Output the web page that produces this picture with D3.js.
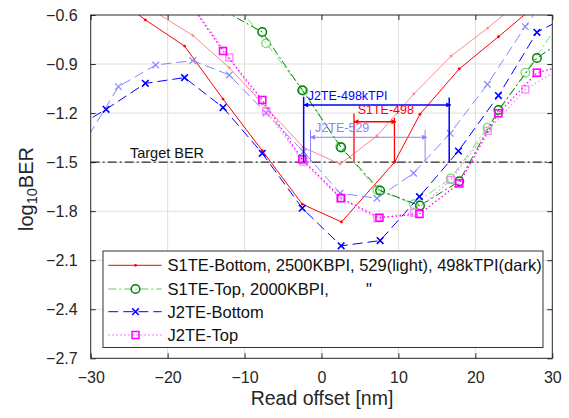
<!DOCTYPE html>
<html>
<head>
<meta charset="utf-8">
<script src="https://cdn.jsdelivr.net/npm/d3@7"></script>
<style>
  body { margin: 0; background: #fff; }
  svg { font-family: "Liberation Sans", Arial, sans-serif; }
</style>
</head>
<body>
<svg id="chart" width="569" height="418"></svg>
<script>
// axis ticks
const xTicks = [-30, -20, -10, 0, 10, 20, 30];
const yTicks = [-0.6, -0.9, -1.2, -1.5, -1.8, -2.1, -2.4, -2.7];

// S1TE-Bottom (498 dark / 529 light)
const s1BotDarkX = [-27.9, -22.9, -17.8, -12.8, -7.7, -2.5, 2.6, 9.5, 12.8, 17.9, 23.0, 28.0];
const s1BotDarkY = [-0.45, -0.63, -0.79, -1.114, -1.43, -1.757, -1.866, -1.50, -1.207, -0.93, -0.733, -0.535];
const s1BotLightX = [-21.5, -16.7, -12.0, -7.1, -2.35, 2.42, 7.2, 12.0, 16.85, 21.6, 26.5];
const s1BotLightY = [-0.585, -0.726, -0.922, -1.17, -1.41, -1.512, -1.34, -1.083, -0.851, -0.68, -0.49];

// S1TE-Top
const s1TopDarkX = [-12.8, -7.7, -2.5, 2.55, 7.62, 12.8, 17.9, 23.0, 28.0, 33.1];
const s1TopDarkY = [-0.571, -0.704, -1.06, -1.41, -1.674, -1.766, -1.617, -1.181, -0.863, -0.70];
const s1TopLightX = [-12.0, -7.2, -2.35, 2.42, 7.27, 12.0, 16.8, 21.57, 26.5, 31.3];
const s1TopLightY = [-0.47, -0.773, -1.063, -1.405, -1.67, -1.757, -1.60, -1.289, -0.953, -0.62];

// J2TE-Bottom
const j2BotDarkX = [-33.1, -28.0, -22.9, -17.8, -12.8, -7.7, -2.5, 2.55, 7.62, 12.73, 17.8, 23.0, 28.0, 33.1];
const j2BotDarkY = [-1.32, -1.177, -1.018, -0.983, -1.166, -1.446, -1.782, -2.012, -1.98, -1.711, -1.432, -1.093, -0.706, -0.58];
const j2BotLightX = [-31.2, -26.4, -21.55, -16.74, -11.98, -7.2, -2.35, 2.42, 7.2, 11.96, 16.72, 21.57, 26.48, 31.3];
const j2BotLightY = [-1.41, -1.038, -0.906, -0.879, -0.967, -1.2, -1.436, -1.69, -1.721, -1.568, -1.324, -1.024, -0.671, -0.35];

// J2TE-Top
const j2TopDarkX = [-17.8, -12.8, -7.7, -2.5, 2.55, 7.53, 12.73, 17.9, 23.0, 28.0, 33.1];
const j2TopDarkY = [-0.48, -0.82, -1.12, -1.483, -1.72, -1.84, -1.817, -1.63, -1.201, -0.953, -0.89];
const j2TopLightX = [-16.8, -11.98, -7.2, -2.35, 2.42, 7.27, 12.04, 16.8, 21.6, 26.5, 31.3];
const j2TopLightY = [-0.545, -0.859, -1.187, -1.497, -1.721, -1.843, -1.809, -1.609, -1.308, -1.055, -0.92];

// target line and margin brackets
const targetBER = -1.5;
const bracketLabels = ["J2TE-498kTPI", "S1TE-498", "J2TE-529"];
const bracketLeft = [-2.32, 4.22, -1.43];
const bracketRight = [16.6, 9.48, 13.47];
const bracketArrowY = [-1.15, -1.253, -1.348];
const bracketTopL = [-1.10, -1.202, -1.303];
const bracketTopR = [-1.105, -1.23, -1.303];
const bracketLabelX = [-1.8, 4.7, -0.83];
const bracketLabelY = [-1.10, -1.185, -1.293];

const legendLabels = [
  "S1TE-Bottom, 2500KBPI, 529(light), 498kTPI(dark)",
  "S1TE-Top, 2000KBPI,",
  "J2TE-Bottom",
  "J2TE-Top"
];

const svg = d3.select("#chart");
const margin = {top: 15, right: 16.7, bottom: 59.7, left: 90.7};
const width = 569 - margin.left - margin.right;
const height = 418 - margin.top - margin.bottom;
const axisColor = "#262626";

const x = d3.scaleLinear().domain([-30, 30]).range([0, width]);
const y = d3.scaleLinear().domain([-0.6, -2.7]).range([0, height]);

const g = svg.append("g").attr("transform", `translate(${margin.left},${margin.top})`);

svg.append("defs").append("clipPath").attr("id", "plotclip")
  .append("rect").attr("width", width).attr("height", height);

// grid
g.append("g").selectAll("line").data(xTicks.slice(1, -1)).join("line")
  .attr("x1", d => x(d)).attr("x2", d => x(d)).attr("y1", 0).attr("y2", height)
  .attr("stroke", "#dfdfdf");
g.append("g").selectAll("line").data(yTicks.slice(1, -1)).join("line")
  .attr("y1", d => y(d)).attr("y2", d => y(d)).attr("x1", 0).attr("x2", width)
  .attr("stroke", "#dfdfdf");

// axes, ticks inward
function styleAxis(sel) {
  sel.select(".domain").remove();
  sel.selectAll("line").attr("stroke", axisColor);
  sel.selectAll("text").attr("fill", axisColor).style("font-size", "16px")
    .style("font-family", "'Liberation Sans', Arial, sans-serif");
}
g.append("g").attr("transform", `translate(0,${height})`)
  .call(d3.axisBottom(x).tickValues(xTicks).tickSizeInner(-5).tickSizeOuter(0).tickPadding(13))
  .call(styleAxis);
g.append("g")
  .call(d3.axisTop(x).tickValues(xTicks).tickSizeInner(-5).tickSizeOuter(0).tickFormat(""))
  .call(styleAxis);
g.append("g")
  .call(d3.axisLeft(y).tickValues(yTicks).tickSizeInner(-5).tickSizeOuter(0).tickPadding(13).tickFormat(d3.format(".1f")))
  .call(styleAxis);
g.append("g").attr("transform", `translate(${width},0)`)
  .call(d3.axisRight(y).tickValues(yTicks).tickSizeInner(-5).tickSizeOuter(0).tickFormat(""))
  .call(styleAxis);

const plot = g.append("g").attr("clip-path", "url(#plotclip)");

// target line
plot.append("line")
  .attr("x1", 0).attr("x2", width).attr("y1", y(targetBER)).attr("y2", y(targetBER))
  .attr("stroke", "#000").attr("stroke-width", 1).attr("stroke-dasharray", "9,3,2,3");
plot.append("text")
  .attr("x", x(-24.9)).attr("y", y(targetBER) - 4.5)
  .style("font-size", "14.5px").attr("fill", "#111").text("Target BER");

const line = d3.line().x(d => x(d[0])).y(d => y(d[1]));

function drawMarker(sel, type, color, sw) {
  if (type === "dot") {
    sel.append("circle").attr("r", 1.4).attr("fill", color);
  } else if (type === "circle") {
    sel.append("circle").attr("r", 4.3).attr("fill", "none").attr("stroke", color).attr("stroke-width", sw);
  } else if (type === "x") {
    sel.append("path").attr("d", "M-3.3,-3.3L3.3,3.3M-3.3,3.3L3.3,-3.3")
      .attr("stroke", color).attr("stroke-width", sw);
  } else if (type === "square") {
    sel.append("rect").attr("x", -3.5).attr("y", -3.5).attr("width", 7).attr("height", 7)
      .attr("fill", "none").attr("stroke", color).attr("stroke-width", sw);
  }
}

function drawSeries(xs, ys, color, dash, lw, marker, msw) {
  const pts = xs.map((v, i) => [v, ys[i]]);
  plot.append("path").datum(pts)
    .attr("d", line).attr("fill", "none")
    .attr("stroke", color).attr("stroke-width", lw)
    .attr("stroke-dasharray", dash);
  plot.append("g").selectAll("g").data(pts).join("g")
    .attr("transform", d => `translate(${x(d[0])},${y(d[1])})`)
    .each(function() { drawMarker(d3.select(this), marker, color, msw); });
}

const dashed = "10,5", dashDot = "8,3,2,3", dotted = "1.5,2.5";

drawSeries(s1BotLightX, s1BotLightY, "#ff8a8a", null, 1, "dot", 1);
drawSeries(s1BotDarkX, s1BotDarkY, "#ff0000", null, 1, "dot", 1);
drawSeries(s1TopLightX, s1TopLightY, "#6ee06e", dashDot, 1, "circle", 1.3);
drawSeries(s1TopDarkX, s1TopDarkY, "#008000", dashDot, 1, "circle", 1.5);
drawSeries(j2BotLightX, j2BotLightY, "#8585ff", dashed, 1, "x", 1.2);
drawSeries(j2BotDarkX, j2BotDarkY, "#0000ff", dashed, 1, "x", 1.6);
drawSeries(j2TopLightX, j2TopLightY, "#ff85ff", dotted, 1.3, "square", 1.3);
drawSeries(j2TopDarkX, j2TopDarkY, "#ff00ff", dotted, 1.3, "square", 1.6);

// brackets with double arrows
const bracketColors = ["#0000ff", "#ff0000", "#8585ff"];
const bracketWidths = [1.5, 1.3, 1];
const defs = svg.select("defs");
bracketColors.forEach((c, i) => {
  defs.append("marker").attr("id", "arr" + i)
    .attr("viewBox", "0 0 10 10").attr("refX", 9).attr("refY", 5)
    .attr("markerWidth", 6).attr("markerHeight", 5)
    .attr("markerUnits", "userSpaceOnUse")
    .attr("orient", "auto-start-reverse")
    .append("path").attr("d", "M0,0L10,5L0,10z").attr("fill", c);
});
bracketLabels.forEach((lab, i) => {
  const c = bracketColors[i];
  g.append("line")
    .attr("x1", x(bracketLeft[i])).attr("x2", x(bracketLeft[i]))
    .attr("y1", y(bracketTopL[i])).attr("y2", y(targetBER))
    .attr("stroke", i === 1 ? "#ff5a5a" : c).attr("stroke-width", i === 1 ? 2 : bracketWidths[i]);
  g.append("line")
    .attr("x1", x(bracketRight[i])).attr("x2", x(bracketRight[i]))
    .attr("y1", y(bracketTopR[i])).attr("y2", y(targetBER))
    .attr("stroke", c).attr("stroke-width", bracketWidths[i]);
  g.append("line")
    .attr("x1", x(bracketLeft[i])).attr("x2", x(bracketRight[i]) + 1.5)
    .attr("y1", y(bracketArrowY[i])).attr("y2", y(bracketArrowY[i]))
    .attr("stroke", c).attr("stroke-width", bracketWidths[i])
    .attr("marker-start", `url(#arr${i})`).attr("marker-end", `url(#arr${i})`);
  g.append("text")
    .attr("x", x(bracketLabelX[i])).attr("y", y(bracketLabelY[i]))
    .attr("dominant-baseline", "middle")
    .style("font-size", "12.5px").attr("fill", c).text(lab);
});

// box
g.append("rect").attr("width", width).attr("height", height)
  .attr("fill", "none").attr("stroke", axisColor).attr("stroke-width", 1);

// axis labels
svg.append("text")
  .attr("x", 322).attr("y", 405).attr("text-anchor", "middle")
  .style("font-size", "19.5px").attr("fill", axisColor).text("Read offset [nm]");
const yl = svg.append("text")
  .attr("transform", "translate(33.3,189) rotate(-90)")
  .attr("text-anchor", "middle").attr("fill", axisColor).style("font-size", "20px");
yl.append("tspan").text("log");
yl.append("tspan").attr("dy", 4).style("font-size", "14.5px").text("10");
yl.append("tspan").attr("dy", -4).text("BER");

// legend
const leg = svg.append("g");
leg.append("rect").attr("x", 103).attr("y", 251).attr("width", 440).attr("height", 96.5)
  .attr("fill", "#fff").attr("stroke", "#333").attr("stroke-width", 1);
const legRows = [265.3, 289, 311.7, 335];
const legLine = ["#ff0000", "#66c266", "#0000ff", "#ff85ff"];
const legMarkColor = ["#ff0000", "#008000", "#0000ff", "#ff00ff"];
const legDash = [null, dashDot, dashed, dotted];
const legMarker = ["dot", "circle", "x", "square"];
legendLabels.forEach((lab, i) => {
  leg.append("line").attr("x1", 108.3).attr("x2", 161.7)
    .attr("y1", legRows[i]).attr("y2", legRows[i])
    .attr("stroke", legLine[i]).attr("stroke-width", i === 3 ? 1.5 : 1)
    .attr("stroke-dasharray", legDash[i]);
  const m = leg.append("g").attr("transform", `translate(135.5,${legRows[i]})`);
  drawMarker(m, legMarker[i], legMarkColor[i], 1.5);
  leg.append("text").attr("x", 167.5).attr("y", legRows[i])
    .attr("dominant-baseline", "central")
    .style("font-size", "16.5px").attr("fill", "#111").text(lab);
});
leg.append("text").attr("x", 366).attr("y", legRows[1])
  .attr("dominant-baseline", "central")
  .style("font-size", "16.5px").attr("fill", "#111").text("\"");
</script>
</body>
</html>
